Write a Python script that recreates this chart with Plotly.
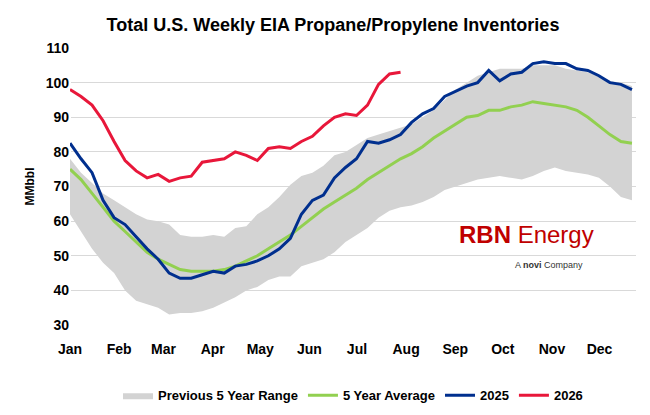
import plotly.graph_objects as go

months = ["Jan","Feb","Mar","Apr","May","Jun","Jul","Aug","Sep","Oct","Nov","Dec"]
month_days = [0,31,59,90,120,151,181,212,243,273,304,334]

range_hi = [78,74,71,68,66,64,62,60.5,60,59,56,55.5,55.5,56,55.5,58,58.5,62,64,67,70.5,73,74,76,79,80,82,84,85,86,87,88,90,92,95,98,100,102,103,104,104,104,105,105,105,104,103.5,103,102,100.5,100,99]
range_lo = [62,57,52,48,45,40,37,36,35,33,33.5,33.5,34,35,36.5,38,40,41,43,44,44,47,48,49,51,54,56,58,61,63,64,64.5,65.5,67,69,70,71,72,72.5,73,72.5,72,73,74.5,75.5,74.5,74,73.5,72.5,70,67,66]
avg5 = [75,72,68,64,60,57,54,51,49,47.5,46,45.5,45.5,45.5,46,47,48.5,50,52,54,56,58.5,61,63.5,65.5,67.5,69.5,72,74,76,78,79.5,81.5,84,86,88,90,90.5,92,92,93,93.5,94.5,94,93.5,93,92,90,87.5,85,83,82.5]
y2025 = [82.5,78,74,66,61,59,55.5,52,49,45,43.5,43.5,44.5,45.5,45,47,47.5,48.5,50,52,55,62,66,67.5,72.5,75.5,78,83,82.5,83.5,85,88.5,91,92.5,96,97.5,99,100,103.5,100.5,102.5,103,105.5,106,105.5,105.5,104,103.5,102,100,99.5,98]
y2026 = [98,96,93.5,89,83,77.5,74.5,72.5,73.5,71.5,72.5,73,77,77.5,78,80,79,77.5,81,81.5,81,83,84.5,87.5,90,91,90.5,93.5,99.5,102.5,103]

def days(n):
    return [i*6.95 for i in range(n)]

fig = go.Figure()
x = days(len(range_hi))
fig.add_trace(go.Scatter(x=x, y=range_lo, mode="lines", line=dict(width=0), showlegend=False, hoverinfo="skip"))
fig.add_trace(go.Scatter(x=x, y=range_hi, mode="lines", line=dict(width=0), fill="tonexty",
                         fillcolor="#d3d3d3", name="<b>Previous 5 Year Range</b>"))
fig.add_trace(go.Scatter(x=days(len(avg5)), y=avg5, mode="lines", line=dict(color="#92d050", width=3), name="<b>5 Year Average</b>"))
fig.add_trace(go.Scatter(x=days(len(y2025)), y=y2025, mode="lines", line=dict(color="#002f8e", width=3), name="<b>2025</b>"))
fig.add_trace(go.Scatter(x=days(len(y2026)), y=y2026, mode="lines", line=dict(color="#e8173a", width=3), name="<b>2026</b>"))

fig.update_layout(
    width=650, height=415, margin=dict(l=62, r=22, t=40, b=85),
    paper_bgcolor="white", plot_bgcolor="white",
    title=dict(text="<b>Total U.S. Weekly EIA Propane/Propylene Inventories</b>", x=0.5, y=0.975,
               font=dict(family="Arial, Liberation Sans", size=18, color="black")),
    font=dict(family="Arial, Liberation Sans", color="black"),
    xaxis=dict(range=[0, 357], tickvals=month_days, ticktext=["<b>%s</b>" % m for m in months],
               showgrid=False, showline=False, tickfont=dict(size=14), ticks="", ticklabelstandoff=14),
    yaxis=dict(range=[30, 110], dtick=10, showgrid=True, gridcolor="#d9d9d9", tickfont=dict(size=14),
               tickprefix="<b>", ticksuffix="</b>",
               title=dict(text="<b>MMbbl</b>", font=dict(size=12), standoff=8), zeroline=False),
    legend=dict(orientation="h", x=0.5, xanchor="center", y=-0.2, yanchor="top",
                font=dict(size=13), traceorder="normal", entrywidth=0, tracegroupgap=0),
)
fig.add_annotation(x=0.93, y=0.27, xref="paper", yref="paper", text="<b>RBN</b> Energy", showarrow=False,
                   font=dict(size=24, color="#c00000"), xanchor="right")
fig.add_annotation(x=0.91, y=0.19, xref="paper", yref="paper", text="A <b>novi</b> Company", showarrow=False,
                   font=dict(size=9, color="#333"), xanchor="right")
fig.write_html("out.html")
